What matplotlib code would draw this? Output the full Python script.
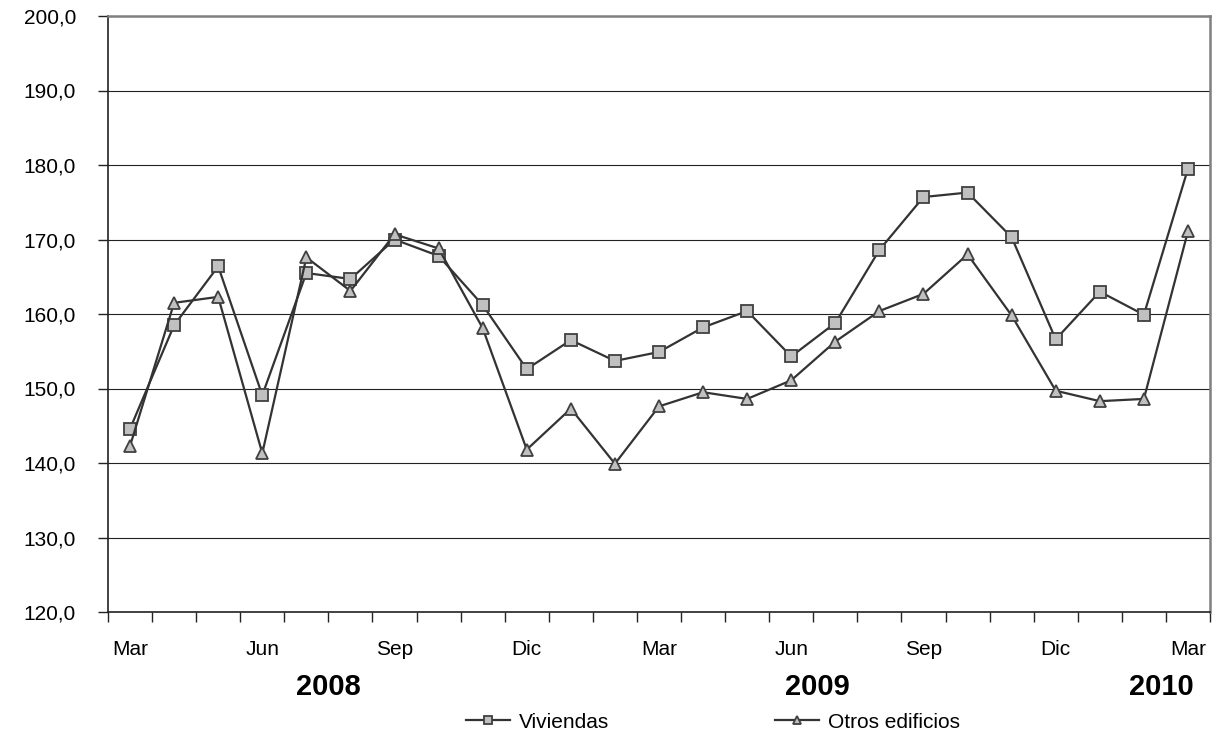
import matplotlib
matplotlib.use("Agg")
import matplotlib.pyplot as plt
import matplotlib.transforms as mtransforms
from matplotlib.ticker import FuncFormatter
import numpy as np

plt.rcParams['font.family'] = ['Liberation Sans', 'DejaVu Sans']

# datos, mar 2008 - mar 2010
meses = ["Mar", "Abr", "May", "Jun", "Jul", "Ago", "Sep", "Oct", "Nov", "Dic",
         "Ene", "Feb", "Mar", "Abr", "May", "Jun", "Jul", "Ago", "Sep", "Oct",
         "Nov", "Dic", "Ene", "Feb", "Mar"]
viviendas = [144.6, 158.5, 166.4, 149.1, 165.5, 164.7, 170.0, 167.8, 161.2, 152.6,
             156.5, 153.7, 154.9, 158.2, 160.4, 154.3, 158.8, 168.6, 175.7, 176.3,
             170.3, 156.6, 163.0, 159.9, 179.5]
otros = [142.3, 161.5, 162.3, 141.3, 167.6, 163.1, 170.7, 168.8, 158.1, 141.8,
         147.3, 139.9, 147.6, 149.5, 148.6, 151.1, 156.3, 160.4, 162.7, 168.0,
         159.8, 149.7, 148.3, 148.6, 171.1]
anios = ["2008", "2009", "2010"]
anio_pos = [4.5, 15.6, 23.4]

x = np.arange(len(meses))

fig = plt.figure(figsize=(12.18, 7.47), dpi=100)
ax = fig.add_axes([108/1218, 1 - 612/747, (1210-108)/1218, (612-16)/747])

line_kw = dict(color="#333333", lw=1.6, markersize=8, markerfacecolor="#c0c0c0",
               markeredgecolor="#404040", markeredgewidth=1.3)
ax.plot(x, viviendas, marker="s", label="Viviendas", **line_kw)
ax.plot(x, otros, marker="^", label="Otros edificios", **line_kw)

ax.set_ylim(120, 200)
ax.set_yticks(np.arange(120, 201, 10))
ax.yaxis.set_major_formatter(FuncFormatter(lambda v, p: f"{v:.1f}".replace(".", ",")))
ax.grid(axis="y", color="#222222", lw=0.8)
ax.set_axisbelow(True)

ax.set_xlim(-0.5, len(meses) - 0.5)
ax.set_xticks(np.arange(len(meses) + 1) - 0.5)
ax.set_xticklabels([])
ax.set_xticks(x[::3], minor=True)
ax.set_xticklabels(meses[::3], minor=True)
ax.tick_params(axis="x", which="major", direction="out", length=7, width=1, color="#222222")
ax.tick_params(axis="x", which="minor", length=0, pad=20, labelsize=15)
ax.tick_params(axis="y", direction="out", length=7, width=1, color="#222222", pad=16, labelsize=15)

for s in ["left", "bottom"]:
    ax.spines[s].set_color("#222222")
    ax.spines[s].set_linewidth(1.2)
for s in ["top", "right"]:
    ax.spines[s].set_color("#808080")
    ax.spines[s].set_linewidth(1.8)

trans = mtransforms.blended_transform_factory(ax.transData, ax.transAxes)
for a, p in zip(anios, anio_pos):
    ax.text(p, -0.126, a, transform=trans, ha="center", va="center",
            fontsize=21, fontweight="bold")

fig.legend(loc="center", bbox_to_anchor=(713/1218, 1 - 722/747), ncol=2,
           frameon=False, fontsize=15, handlelength=2.1, columnspacing=8,
           markerscale=0.7, handletextpad=0.4)

fig.savefig("out.png", dpi=100)
